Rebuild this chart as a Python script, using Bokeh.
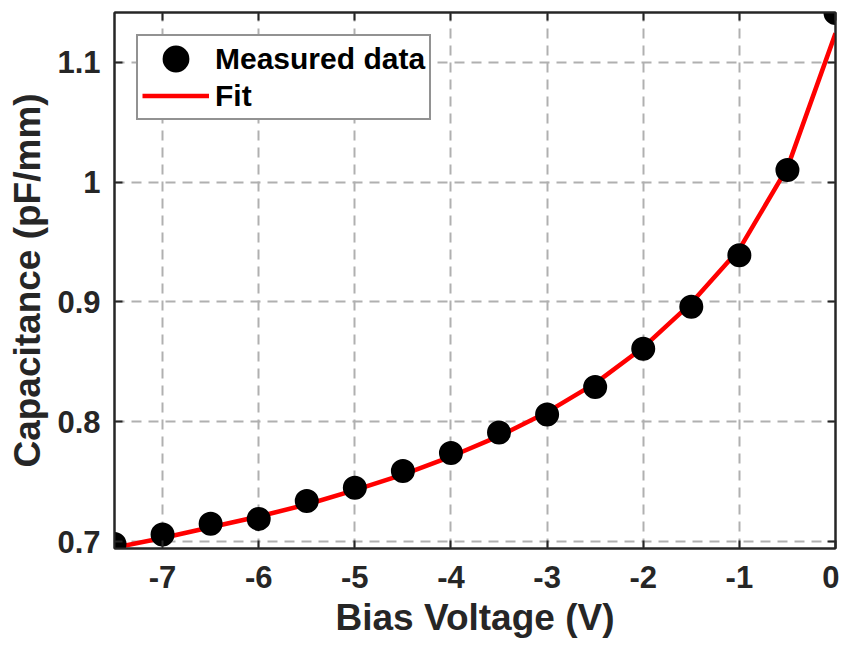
from bokeh.plotting import figure
from bokeh.models import LinearAxis, Range1d, FixedTicker, Legend, LegendItem
from bokeh.embed import file_html
from bokeh.resources import INLINE

# ---- data ----
voltage = [-7.5, -7.0, -6.5, -6.0, -5.5, -5.0, -4.5, -4.0, -3.5, -3.0,
           -2.5, -2.0, -1.5, -1.0, -0.5, 0.0]
measured = [0.698, 0.706, 0.715, 0.719, 0.734, 0.745, 0.759, 0.774, 0.791, 0.806,
            0.829, 0.861, 0.896, 0.939, 1.010, 1.141]
fit = [0.695, 0.703, 0.712, 0.721, 0.731, 0.743, 0.756, 0.771, 0.788, 0.808,
       0.832, 0.862, 0.899, 0.944, 1.012, 1.124]
x_ticks = [-7, -6, -5, -4, -3, -2, -1, 0]
y_ticks = [0.7, 0.8, 0.9, 1.0, 1.1]
y_tick_labels = {0.7: "0.7", 0.8: "0.8", 0.9: "0.9", 1.0: "1", 1.1: "1.1"}
x_tick_labels = {v: str(v) for v in x_ticks}

FONT = "Liberation Sans"
TXT = "#262626"
AX = "#262626"

p = figure(width=839, height=653,
           x_range=Range1d(-7.5, 0.0), y_range=Range1d(0.6943, 1.1414),
           output_backend="svg", toolbar_location=None,
           min_border_left=114, min_border_right=4,
           min_border_top=12, min_border_bottom=105,
           x_axis_label="Bias Voltage (V)",
           y_axis_label="Capacitance (pF/mm)")
p.outline_line_color = AX
p.outline_line_width = 2
p.background_fill_color = "white"
p.border_fill_color = "white"

def style_axis(ax, ticks, labels, show_labels=True):
    ax.ticker = FixedTicker(ticks=ticks)
    ax.major_tick_in = 8
    ax.major_tick_out = 0
    ax.minor_tick_in = 0
    ax.minor_tick_out = 0
    ax.major_tick_line_color = AX
    ax.major_tick_line_width = 2
    ax.axis_line_color = AX
    ax.axis_line_width = 2
    ax.major_label_text_font = FONT
    ax.major_label_text_font_style = "bold"
    ax.major_label_text_color = TXT
    ax.major_label_text_font_size = "31px"
    if show_labels:
        ax.major_label_overrides = labels
    else:
        ax.major_label_overrides = {t: "" for t in ticks}
        ax.major_label_standoff = 0
        ax.major_label_text_font_size = "1px"

style_axis(p.xaxis[0], x_ticks, x_tick_labels)
style_axis(p.yaxis[0], y_ticks, y_tick_labels)
p.xaxis[0].major_label_standoff = 17
p.yaxis[0].major_label_standoff = 14
for ax in (p.xaxis[0], p.yaxis[0]):
    ax.axis_label_text_font = FONT
    ax.axis_label_text_font_style = "bold"
    ax.axis_label_text_color = TXT
    ax.axis_label_text_font_size = "37px"
p.xaxis[0].axis_label_standoff = 6
p.yaxis[0].axis_label_standoff = 6

top = LinearAxis()
style_axis(top, x_ticks, x_tick_labels, show_labels=False)
p.add_layout(top, "above")
right = LinearAxis()
style_axis(right, y_ticks, y_tick_labels, show_labels=False)
p.add_layout(right, "right")

p.xgrid.ticker = FixedTicker(ticks=x_ticks)
p.ygrid.ticker = FixedTicker(ticks=y_ticks)
for g in (p.xgrid[0], p.ygrid[0]):
    g.grid_line_color = "#b0b0b0"
    g.grid_line_width = 2
    g.grid_line_dash = "10 7"

fit_r = p.line(voltage, fit, line_color="#ff0000", line_width=4.5)
# small core + thick black outline -> 24 px dots, and a large legend dot
meas_r = p.scatter(voltage, measured, marker="circle", size=12,
                   fill_color="black", line_color="black", line_width=12)

legend = Legend(items=[LegendItem(label="Measured data", renderers=[meas_r]),
                       LegendItem(label="Fit", renderers=[fit_r])],
                location="top_left", margin=22, padding=4,
                glyph_width=67, glyph_height=37, label_height=30,
                spacing=0, label_standoff=6,
                label_text_font=FONT, label_text_font_style="bold",
                label_text_font_size="30px", label_text_color="black",
                border_line_color=AX, border_line_width=2,
                background_fill_color="white", background_fill_alpha=1)
p.add_layout(legend, "center")

open("out.html", "w").write(file_html(p, INLINE))
